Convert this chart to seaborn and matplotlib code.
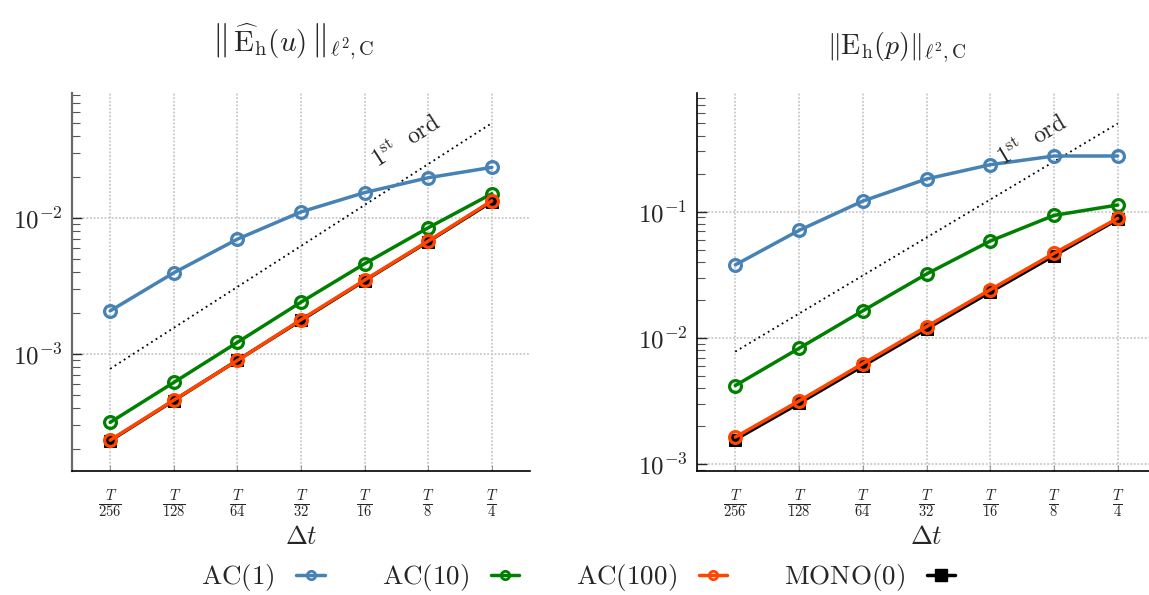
import numpy as np
import pandas as pd
import matplotlib
matplotlib.use("Agg")
import matplotlib.pyplot as plt
import matplotlib.ticker as mticker
from matplotlib.lines import Line2D
import seaborn as sns

# ---------------- data ----------------
dt_den = [256, 128, 64, 32, 16, 8, 4]
dt = [1.0 / d for d in dt_den]
dt_labels = [r"$\frac{T}{%d}$" % d for d in dt_den]

series_names = ["AC(1)", "AC(10)", "AC(100)", "MONO(0)"]

u_ac1 = [2.08e-3, 3.96e-3, 7.0e-3, 1.11e-2, 1.54e-2, 1.98e-2, 2.36e-2]
u_ac10 = [3.15e-4, 6.19e-4, 1.22e-3, 2.41e-3, 4.62e-3, 8.49e-3, 1.51e-2]
u_ac100 = [2.33e-4, 4.59e-4, 8.98e-4, 1.79e-3, 3.50e-3, 6.78e-3, 1.34e-2]
u_mono = [2.31e-4, 4.56e-4, 9.0e-4, 1.77e-3, 3.47e-3, 6.72e-3, 1.32e-2]

p_ac1 = [0.0379, 0.0711, 0.1213, 0.1815, 0.2355, 0.276, 0.276]
p_ac10 = [4.20e-3, 8.28e-3, 1.64e-2, 3.21e-2, 5.86e-2, 9.35e-2, 0.113]
p_ac100 = [1.64e-3, 3.17e-3, 6.26e-3, 1.23e-2, 2.41e-2, 4.68e-2, 8.86e-2]
p_mono = [1.57e-3, 3.04e-3, 6.0e-3, 1.18e-2, 2.31e-2, 4.49e-2, 8.7e-2]

ref_dt = [1.0 / 256, 1.0 / 4]
ref_u = [7.8e-4, 4.99e-2]
ref_p = [7.8e-3, 0.499]

# ---------------- style ----------------
sns.set_style("ticks")
plt.rcParams["mathtext.fontset"] = "cm"
plt.rcParams["font.family"] = ["DejaVu Serif"]

colors = {"AC(1)": "#4682B4", "AC(10)": "#008000", "AC(100)": "#FF4500", "MONO(0)": "#000000"}

fig = plt.figure(figsize=(11.49, 5.95), dpi=100)
W, H = 1149.0, 595.0
ax_bottom, ax_top = 470.7, 92.7
axL = fig.add_axes([72 / W, 1 - ax_bottom / H, 458 / W, (ax_bottom - ax_top) / H])
axR = fig.add_axes([697 / W, 1 - ax_bottom / H, 459 / W, (ax_bottom - ax_top) / H])

panels = [
    (axL, [u_ac1, u_ac10, u_ac100, u_mono], ref_u, (1.39e-4, 0.0835), [1e-3, 1e-2], "#6a6a6a"),
    (axR, [p_ac1, p_ac10, p_ac100, p_mono], ref_p, (8.9e-4, 0.875), [1e-3, 1e-2, 1e-1], "#000000"),
]

LW = 2.5
circ_kw = dict(marker="o", markersize=8.5, markerfacecolor="none", markeredgewidth=2.3, linewidth=LW)

for ax, vals, ref, ylim, decades, lcol in panels:
    ax.set_xscale("log", base=2)
    ax.set_yscale("log")
    ax.set_axisbelow(True)
    # reference 1st order line
    sns.lineplot(x=ref_dt, y=ref, ax=ax, color="black", linewidth=1.3,
                 linestyle=(0, (1, 2)), legend=False)
    # MONO beneath AC(100)
    order = [0, 1, 3, 2]
    for i in order:
        name = series_names[i]
        if name == "MONO(0)":
            sns.lineplot(x=dt, y=vals[i], ax=ax, color="black", marker="s", markersize=8.5,
                         markeredgecolor="black", markerfacecolor="black", linewidth=LW, legend=False)
        else:
            sns.lineplot(x=dt, y=vals[i], ax=ax, color=colors[name], markeredgecolor=colors[name],
                         legend=False, **circ_kw)
    ax.set_xlim(2 ** (-8 - 0.6), 2 ** (-2 + 0.6))
    ax.set_ylim(*ylim)
    ax.set_xticks(dt)
    ax.set_xticklabels(dt_labels, fontsize=15)
    ax.xaxis.set_minor_locator(mticker.NullLocator())
    ax.yaxis.set_major_locator(mticker.FixedLocator(decades))
    ax.yaxis.set_major_formatter(mticker.FuncFormatter(lambda v, p: r"$10^{%d}$" % int(round(np.log10(v)))))
    ax.yaxis.set_minor_locator(mticker.LogLocator(base=10, subs=np.arange(2, 10)))
    ax.yaxis.set_minor_formatter(mticker.NullFormatter())
    ax.tick_params(axis="y", which="major", direction="in", length=7, width=1, labelsize=18, pad=7)
    ax.tick_params(axis="y", which="minor", direction="in", length=6, width=0.8, color="#555555")
    ax.tick_params(axis="x", which="major", direction="in", length=4, width=0.8, color="#999999", pad=12)
    ax.grid(True, which="major", color="#c8c8c8", linestyle=(0, (1, 1.0)), linewidth=1.3)
    ax.grid(False, which="minor")
    for s in ["top", "right"]:
        ax.spines[s].set_visible(False)
    ax.spines["left"].set_color(lcol)
    ax.spines["left"].set_linewidth(1.6 if lcol != "#000000" else 1.2)
    ax.spines["bottom"].set_color("black")
    ax.spines["bottom"].set_linewidth(1.2)
    ax.set_xlabel(r"$\Delta t$", fontsize=19, labelpad=3)
    ax.set_ylabel("")

    # 1st order annotation along the reference line
    fig.canvas.draw()
    p0 = ax.transData.transform((ref_dt[0], ref[0]))
    p1 = ax.transData.transform((ref_dt[1], ref[1]))
    ang = np.degrees(np.arctan2(p1[1] - p0[1], p1[0] - p0[0]))
    xt = 2 ** (-8 + 4.66)
    yt = ref[0] * (xt / ref_dt[0]) * 1.85
    ax.text(xt, yt, r"$1^{\mathrm{st}}\ \ \mathrm{ord}$", rotation=ang, ha="center", va="center",
            rotation_mode="anchor", fontsize=17)

# titles
from matplotlib.mathtext import MathTextParser
def safe(s, fallback):
    try:
        MathTextParser("path").parse(s)
        return s
    except Exception:
        return fallback

tL = safe(r"$\left\Vert\underline{\widehat{\mathrm{E}}}_{\mathrm{h}}(\underline{u})\right\Vert_{\ell^2,\mathrm{C}}$",
          r"$\left\Vert\,\widehat{\mathrm{E}}_{\mathrm{h}}(u)\,\right\Vert_{\ell^2,\mathrm{C}}$")
tR = r"$\Vert\mathrm{E}_{\mathrm{h}}(p)\Vert_{\ell^2,\mathrm{C}}$"
axL.text(0.483, 1.135, tL, transform=axL.transAxes, ha="center", va="center", fontsize=21)
axR.text(0.436, 1.118, tR, transform=axR.transAxes, ha="center", va="center", fontsize=20)

# legend
handles = []
for name in series_names:
    if name == "MONO(0)":
        handles.append(Line2D([], [], color="black", marker="s", markersize=8, linewidth=LW))
    else:
        handles.append(Line2D([], [], color=colors[name], marker="o", markersize=6,
                              markerfacecolor="none", markeredgewidth=2.0, linewidth=LW))
labels = [r"$\mathrm{%s}$" % n for n in series_names]
fig.legend(handles, labels, loc="center", bbox_to_anchor=(0.503, 0.029), ncol=4, frameon=False,
           markerfirst=False, fontsize=19.5, handlelength=1.05, handletextpad=0.8, columnspacing=2.1)

fig.savefig("out.png", dpi=100)
